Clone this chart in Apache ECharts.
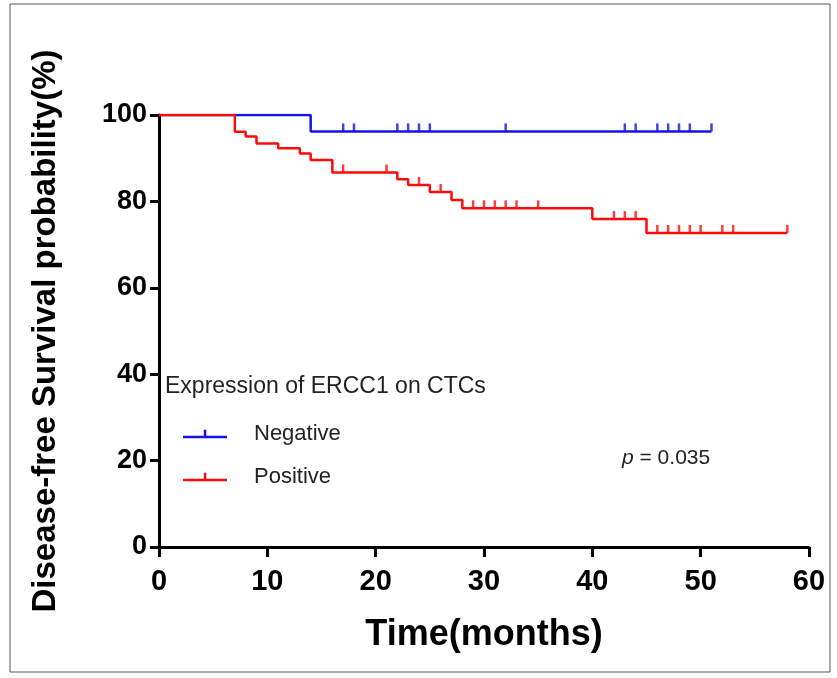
<!DOCTYPE html>
<html>
<head>
<meta charset="utf-8">
<script src="https://cdn.jsdelivr.net/npm/echarts@6/dist/echarts.min.js"></script>
<style>
  html, body { margin: 0; padding: 0; background: #fff; }
  #chart { width: 837px; height: 678px; }
</style>
</head>
<body>
<div id="chart"></div>
<script>
// Kaplan-Meier steps (months, survival %)
var negTimes = [0, 14, 51];
var negSurv = [100, 96.2, 96.2];
var negCensor = [17, 18, 22, 23, 24, 25, 32, 43, 44, 46, 47, 48, 49, 51];

var posTimes = [0, 7, 8, 9, 11, 13, 14, 16, 22, 23, 25, 27, 28, 40, 45, 58];
var posSurv = [100, 96.1, 95.0, 93.4, 92.3, 91.1, 89.6, 86.7, 85.1, 83.8, 82.2, 80.3, 78.4, 75.9, 72.7, 72.7];
var posCensor = [17, 21, 24, 26, 29, 30, 31, 32, 33, 35, 42, 43, 44, 46, 47, 48, 49, 50, 52, 53, 58];

var blue = '#1414e6';
var red = '#ff0a0a';

function zip(a, b) {
    return a.map(function (v, i) { return [v, b[i]]; });
}
function stepAt(times, surv, t) {
    var v = surv[0];
    for (var i = 0; i < times.length; i++) {
        if (times[i] <= t) v = surv[i];
    }
    return v;
}
function censorPts(c, times, surv) {
    return c.map(function (t) { return [t, stepAt(times, surv, t)]; });
}

var tickIcon = 'path://M0,9L44,9L44,11.5L0,11.5Z M20.8,3L23.3,3L23.3,9L20.8,9Z';
var font = 'Liberation Sans, Arial';

var option = {
    backgroundColor: '#fff',
    animation: false,
    grid: { left: 159, right: 28, top: 115, bottom: 131 },
    xAxis: {
        type: 'value',
        min: 0, max: 60, interval: 10,
        name: 'Time(months)',
        nameLocation: 'middle',
        nameGap: 70,
        nameTextStyle: { fontSize: 36, fontWeight: 'bold', color: '#000', fontFamily: font },
        axisLine: { lineStyle: { color: '#000', width: 3 } },
        axisTick: { length: 10, lineStyle: { color: '#000', width: 3 } },
        axisLabel: { fontSize: 29, fontWeight: 'bold', color: '#000', margin: 20, fontFamily: font },
        splitLine: { show: false }
    },
    yAxis: {
        type: 'value',
        min: 0, max: 100, interval: 20,
        name: 'Disease-free Survival probability(%)',
        nameLocation: 'middle',
        nameGap: 97,
        nameTextStyle: { fontSize: 33, fontWeight: 'bold', color: '#000', fontFamily: font },
        axisLine: { show: true, lineStyle: { color: '#000', width: 3 } },
        axisTick: { show: true, length: 9, lineStyle: { color: '#000', width: 3 } },
        axisLabel: { fontSize: 27, fontWeight: 'bold', color: '#000', margin: 12, fontFamily: font },
        splitLine: { show: false }
    },
    legend: {
        data: [
            { name: 'Negative', icon: tickIcon },
            { name: 'Positive', icon: tickIcon }
        ],
        orient: 'vertical',
        left: 178,
        top: 418,
        itemWidth: 44,
        itemHeight: 9,
        itemGap: 21,
        selectedMode: false,
        textStyle: { fontSize: 22, color: '#222', fontFamily: font, padding: [0, 0, 0, 22] }
    },
    graphic: [
        {
            type: 'rect',
            shape: { x: 10, y: 4, width: 820, height: 668 },
            style: { fill: 'none', stroke: '#555', lineWidth: 1 },
            silent: true
        },
        {
            type: 'text',
            left: 165, top: 375,
            style: { text: 'Expression of ERCC1 on CTCs', fontSize: 23, fill: '#222', fontFamily: font }
        },
        {
            type: 'text',
            left: 622, top: 448,
            style: {
                text: '{i|p} = 0.035',
                fontSize: 21, fill: '#222', fontFamily: font,
                rich: { i: { fontStyle: 'italic', fontSize: 21, fill: '#222', fontFamily: font } }
            }
        }
    ],
    series: [
        {
            name: 'Negative',
            type: 'line',
            step: 'end',
            data: zip(negTimes, negSurv),
            showSymbol: false,
            color: blue,
            lineStyle: { color: blue, width: 2.5 },
            z: 3
        },
        {
            name: 'Positive',
            type: 'line',
            step: 'end',
            data: zip(posTimes, posSurv),
            showSymbol: false,
            color: red,
            lineStyle: { color: red, width: 2.5 },
            z: 3
        },
        {
            name: 'Negative censored',
            type: 'scatter',
            data: censorPts(negCensor, negTimes, negSurv),
            symbol: 'rect',
            symbolSize: [2.5, 8],
            symbolOffset: [0, -4],
            itemStyle: { color: blue },
            z: 4
        },
        {
            name: 'Positive censored',
            type: 'scatter',
            data: censorPts(posCensor, posTimes, posSurv),
            symbol: 'rect',
            symbolSize: [2.5, 8],
            symbolOffset: [0, -4],
            itemStyle: { color: red },
            z: 4
        }
    ]
};

var chart = echarts.init(document.getElementById('chart'));
chart.setOption(option);
</script>
</body>
</html>
